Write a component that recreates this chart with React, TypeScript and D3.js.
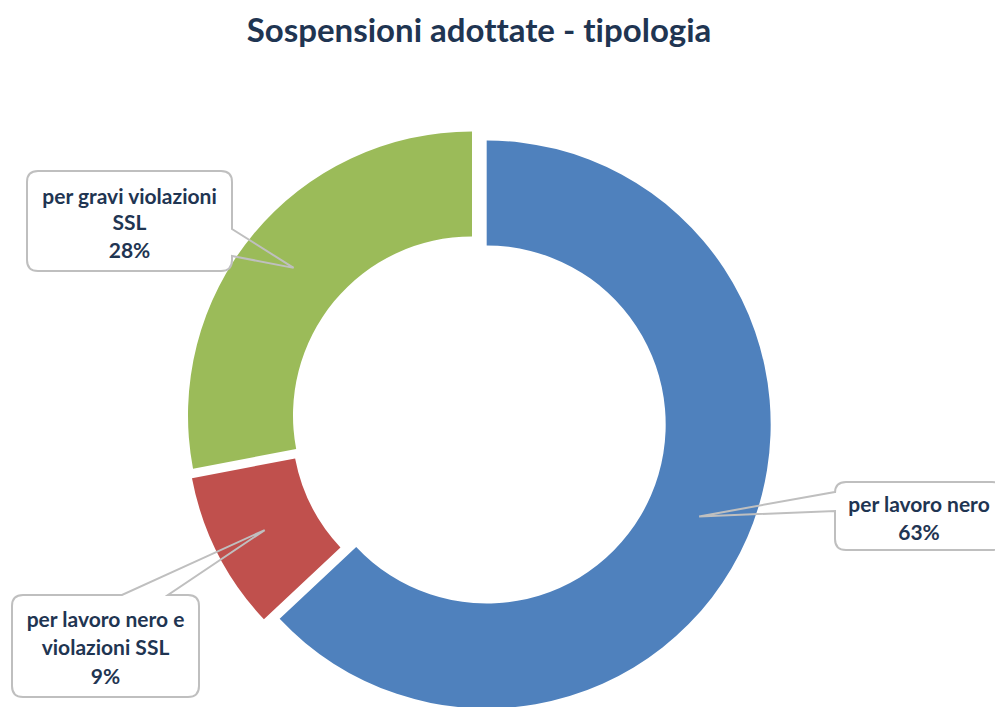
import React from 'react'
import * as d3 from 'd3'

// data
const categories = ['per lavoro nero', 'per lavoro nero e violazioni SSL', 'per gravi violazioni SSL']
const values = [63, 9, 28]
const labelNames = [['per lavoro nero'], ['per lavoro nero e', 'violazioni SSL'], ['per gravi violazioni', 'SSL']]
const colors = ['#4F81BD', '#C0504D', '#9BBB59']

const W = 995, H = 707
const cx = 478.7, cy = 421
const outerR = 284, innerR = 179
const explode = 8.7
const textColor = '#1F3552'

// callout boxes (layout only)
const boxes = [
  { x: 835, y: 482, w: 168, h: 68, side: 'left', a0: 492, a1: 511, lineY: [512, 540] },
  { x: 12, y: 595, w: 187, h: 102, side: 'top', a0: 122, a1: 168, lineY: [627, 655, 684] },
  { x: 27, y: 171, w: 205, h: 100, side: 'right', a0: 229, a1: 256, lineY: [204, 230, 258] },
]

function calloutPath(b: any, tip: number[]) {
  const rr = 11
  const x0 = b.x, y0 = b.y, x1 = b.x + b.w, y1 = b.y + b.h
  let p = `M${x0 + rr},${y0}`
  if (b.side === 'top') p += `L${b.a0},${y0}L${tip[0]},${tip[1]}L${b.a1},${y0}`
  p += `L${x1 - rr},${y0}Q${x1},${y0} ${x1},${y0 + rr}`
  if (b.side === 'right') p += `L${x1},${b.a0}L${tip[0]},${tip[1]}L${x1},${b.a1}`
  p += `L${x1},${y1 - rr}Q${x1},${y1} ${x1 - rr},${y1}`
  p += `L${x0 + rr},${y1}Q${x0},${y1} ${x0},${y1 - rr}`
  if (b.side === 'left') p += `L${x0},${b.a1}L${tip[0]},${tip[1]}L${x0},${b.a0}`
  p += `L${x0},${y0 + rr}Q${x0},${y0} ${x0 + rr},${y0}`
  return p
}

const App = () => {
  const pie = d3.pie<number>().sort(null).value(d => d)
  const arcs = pie(values)
  const arc = d3.arc<d3.PieArcDatum<number>>().innerRadius(innerR).outerRadius(outerR)
  const total = d3.sum(values)

  return (
    <svg width={W} height={H}
      style={{ position: 'absolute', left: 0, top: 0, background: '#fff', fontVariantLigatures: 'none' }}
      fontFamily="Lato, 'Open Sans', sans-serif">
      <text x={479} y={42} textAnchor="middle" fontSize={33} fontWeight="bold" fill={textColor}>
        Sospensioni adottate - tipologia
      </text>
      {arcs.map((a, i) => {
        const mid = (a.startAngle + a.endAngle) / 2
        const dx = explode * Math.sin(mid), dy = -explode * Math.cos(mid)
        return (
          <path key={categories[i]} d={arc(a) || ''} fill={colors[i]}
            transform={`translate(${cx + dx},${cy + dy})`} />
        )
      })}
      {arcs.map((a, i) => {
        const mid = (a.startAngle + a.endAngle) / 2
        const dx = explode * Math.sin(mid), dy = -explode * Math.cos(mid)
        const c = arc.centroid(a)
        const tip = [cx + dx + c[0], cy + dy + c[1]]
        const b = boxes[i]
        const lines = [...labelNames[i], `${Math.round(values[i] / total * 100)}%`]
        const tx = b.x + b.w / 2
        return (
          <g key={'lab' + i}>
            <rect x={b.x} y={b.y} width={b.w} height={b.h} rx={11} fill="#fff" />
            <path d={calloutPath(b, tip)} fill="none" stroke="#BFBFBF" strokeWidth={2} />
            {lines.map((l, j) => (
              <text key={j} x={tx} y={b.lineY[j]} textAnchor="middle" fontSize={21}
                fontWeight="bold" fill={textColor}>{l}</text>
            ))}
          </g>
        )
      })}
    </svg>
  )
}

export default App
